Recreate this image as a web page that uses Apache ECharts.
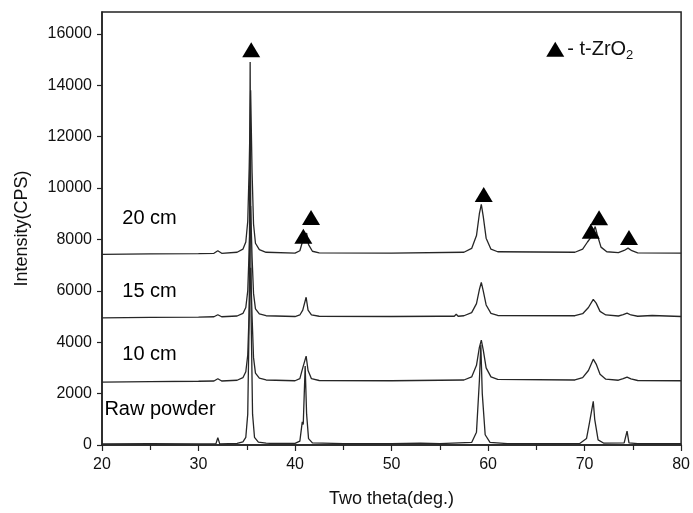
<!DOCTYPE html>
<html>
<head>
<meta charset="utf-8">
<script src="https://cdn.jsdelivr.net/npm/echarts@6/dist/echarts.min.js"></script>
<style>html,body{margin:0;padding:0;background:#fff;}#c{width:693px;height:513px;}</style>
</head>
<body>
<div id="c"></div>
<script>
// ---- data (2θ, intensity) ----
const rawPowder = [[20,40],[25,50],[30,40],[31.8,45],[32.0,280],[32.2,45],[34.0,60],[34.6,120],[34.9,300],[35.1,1200],[35.25,5000],[35.35,14900],[35.45,5000],[35.6,1200],[35.8,300],[36.2,110],[37.0,70],[37.2,110],[37.4,60],[40.0,60],[40.5,150],[40.75,900],[40.85,800],[41.05,3070],[41.2,1200],[41.4,250],[41.8,80],[45,50],[50,50],[53,70],[55,50],[58.3,100],[58.8,500],[59.1,2500],[59.25,3900],[59.4,2000],[59.7,400],[60.2,100],[62,50],[69.5,60],[70.2,250],[70.5,850],[70.65,900],[70.9,1700],[71.05,1000],[71.4,200],[72,70],[74.1,80],[74.4,540],[74.6,80],[75.5,50],[80,50]];
const cm10 = [[20,2450],[25,2470],[30,2480],[31.6,2490],[32.0,2580],[32.4,2490],[34,2520],[34.6,2620],[34.9,2850],[35.1,3500],[35.25,5200],[35.4,6900],[35.55,5000],[35.7,3400],[35.9,2800],[36.3,2600],[37,2530],[40,2500],[40.5,2580],[40.8,3000],[40.95,3030],[41.15,3460],[41.35,2900],[41.7,2580],[42.5,2510],[50,2500],[57.5,2530],[58.3,2650],[58.8,3100],[59.1,3800],[59.3,4080],[59.5,3700],[59.8,3000],[60.3,2650],[61,2550],[69,2530],[69.8,2620],[70.4,2900],[70.9,3340],[71.2,3150],[71.6,2750],[72.2,2560],[73.5,2520],[74.0,2580],[74.4,2640],[74.8,2570],[75.5,2510],[80,2500]];
const cm15 = [[20,4950],[25,4970],[30,4980],[31.6,4990],[32.0,5070],[32.4,4990],[34,5020],[34.6,5120],[34.9,5350],[35.1,6000],[35.25,7600],[35.4,9300],[35.55,7300],[35.7,5900],[35.9,5300],[36.3,5100],[37,5030],[40,5000],[40.5,5060],[40.8,5250],[40.95,5280],[41.15,5750],[41.35,5250],[41.7,5060],[42.5,5010],[50,5000],[55.0,5010],[55.2,5080],[55.4,5010],[56.5,5010],[56.7,5090],[56.9,5010],[57.5,5030],[58.3,5150],[58.8,5500],[59.1,6050],[59.3,6330],[59.5,6000],[59.8,5450],[60.3,5120],[61,5040],[69,5030],[69.8,5110],[70.4,5350],[70.9,5670],[71.2,5520],[71.6,5200],[72.2,5060],[73.5,5020],[74.0,5070],[74.4,5130],[74.8,5060],[75.5,5010],[77,5040],[80,5000]];
const cm20 = [[20,7420],[25,7440],[30,7450],[31.6,7460],[32.0,7560],[32.4,7460],[34,7500],[34.6,7620],[34.9,7900],[35.1,8700],[35.25,10800],[35.4,13800],[35.55,10600],[35.7,8600],[35.9,7850],[36.3,7600],[37,7500],[40,7470],[40.5,7560],[40.75,7880],[40.95,7950],[41.2,8250],[41.4,7800],[41.8,7540],[42.5,7480],[50,7470],[57.5,7500],[58.3,7650],[58.8,8150],[59.1,9000],[59.3,9360],[59.5,8900],[59.8,8050],[60.3,7620],[61,7520],[69,7500],[69.8,7620],[70.3,7900],[70.6,8050],[70.9,8300],[71.1,8500],[71.3,8200],[71.7,7700],[72.3,7520],[73.5,7490],[74.1,7570],[74.5,7660],[74.9,7560],[75.5,7480],[80,7470]];
const triangleMarks = [[35.46,15380],[40.86,8120],[41.66,8850],[59.55,9750],[70.64,8320],[71.5,8840],[74.6,8070]];
const legendMark = [[66.96,15400]];
const curveLabels = [
  {name:'20 cm', value:[22.1,8815]},
  {name:'15 cm', value:[22.1,5980]},
  {name:'10 cm', value:[22.1,3530]},
  {name:'Raw powder', value:[20.25,1400]}
];
const xTicks = {min:20, max:80, interval:10};
const yTicks = {min:0, max:16850, interval:2000};

const FONT = '"Liberation Sans", Arial, sans-serif';
const TXT = '#111';
const lineStyle = {color:'#262626', width:1.3};
function lineSeries(d){
  return {type:'line', data:d, showSymbol:false, symbol:'none', lineStyle:lineStyle, silent:true, z:2};
}
const chart = echarts.init(document.getElementById('c'), null, {renderer:'canvas'});
chart.setOption({
  animation:false,
  backgroundColor:'#fff',
  grid:{left:102, right:10, top:12, bottom:67, show:true, borderColor:'#222', borderWidth:1.5, containLabel:false},
  xAxis:{
    type:'value', min:xTicks.min, max:xTicks.max, interval:xTicks.interval,
    name:'Two theta(deg.)', nameLocation:'middle', nameGap:45,
    nameTextStyle:{fontFamily:FONT, fontSize:18, color:TXT},
    axisLine:{lineStyle:{color:'#222', width:1.5}},
    axisTick:{show:true, inside:false, length:6, lineStyle:{color:'#222', width:1.2}},
    minorTick:{show:true, splitNumber:2, length:5, lineStyle:{color:'#222', width:1.2}},
    splitLine:{show:false},
    axisLabel:{fontFamily:FONT, fontSize:16, color:TXT, margin:12}
  },
  yAxis:{
    type:'value', min:yTicks.min, max:yTicks.max, interval:yTicks.interval,
    name:'Intensity(CPS)', nameLocation:'middle', nameGap:71,
    nameTextStyle:{fontFamily:FONT, fontSize:18, color:TXT},
    axisLine:{show:true, lineStyle:{color:'#222', width:1.5}},
    axisTick:{show:true, inside:false, length:5, lineStyle:{color:'#222', width:1.2}},
    splitLine:{show:false},
    axisLabel:{fontFamily:FONT, fontSize:16, color:TXT, margin:10, showMaxLabel:false,
      formatter:function(v){return (v % yTicks.interval === 0) ? String(v) : '';}}
  },
  series:[
    lineSeries(rawPowder),
    lineSeries(cm10),
    lineSeries(cm15),
    lineSeries(cm20),
    {type:'scatter', data:triangleMarks, symbol:'triangle', symbolSize:[18,15], itemStyle:{color:'#000', opacity:1}, silent:true, z:5},
    {type:'scatter', data:legendMark, symbol:'triangle', symbolSize:[18,15], itemStyle:{color:'#000', opacity:1}, silent:true, z:5,
      label:{show:true, position:'right', distance:3, fontFamily:FONT, color:TXT, opacity:1,
        formatter:'{a|- t-ZrO}{b|2}',
        rich:{a:{fontFamily:FONT, fontSize:20, color:TXT}, b:{fontFamily:FONT, fontSize:13, color:TXT, padding:[12,0,0,0]}}}},
    {type:'scatter', data:curveLabels, symbolSize:0, silent:true, z:6,
      itemStyle:{color:'#000', opacity:1},
      label:{show:true, position:'right', distance:0, formatter:'{b}', fontFamily:FONT, fontSize:20, color:'#000', opacity:1}}
  ]
});
</script>
</body>
</html>
